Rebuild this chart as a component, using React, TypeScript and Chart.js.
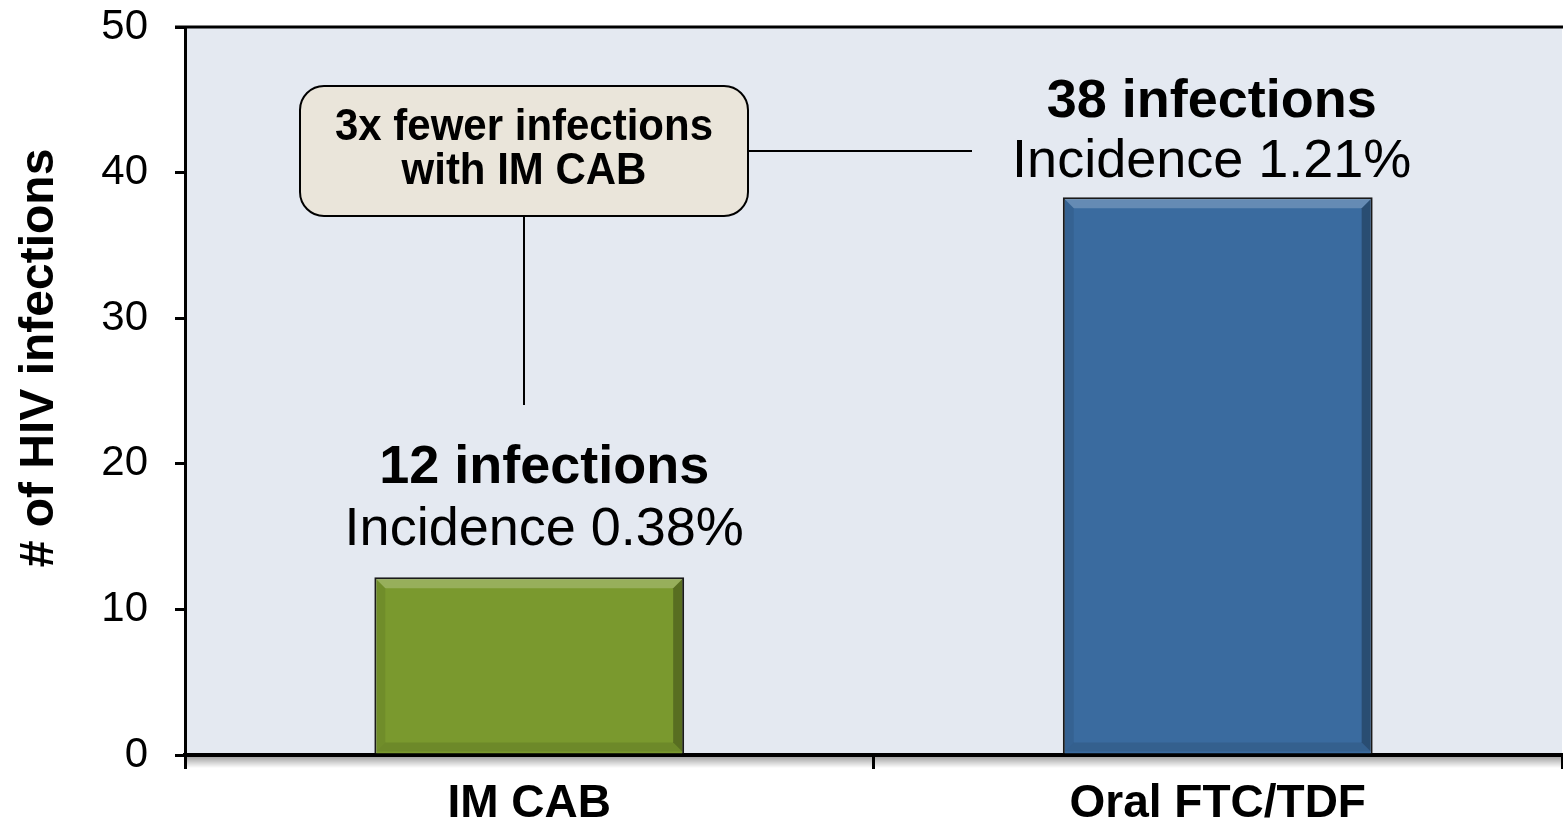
import React, { useEffect, useRef } from "react";
import { Chart, registerables } from "chart.js";

Chart.register(...registerables);

// ---- data ----
const categories = ["IM CAB", "Oral FTC/TDF"];
const infections = [12.2, 38.3];
const barColors = ["#7A992E", "#3A6B9F"];
const countLabels = ["12 infections", "38 infections"];
const incidenceLabels = ["Incidence 0.38%", "Incidence 1.21%"];
const yTickValues = [0, 10, 20, 30, 40, 50];
const yTitle = "# of HIV infections";
const calloutLines = ["3x fewer infections", "with IM CAB"];

// ---- layout (positions / styles, kept separate from data) ----
const W = 1563;
const H = 822;
const FONT = '"Liberation Sans", Arial, Helvetica, sans-serif';
const countLabelY = [19.7, 44.85]; // label anchor in axis units
const incidenceLabelY = [15.45, 40.7];
const labelDx = [15, -6];
const callout = { x: 300, y: 86, w: 448, h: 130, r: 24 };
const calloutTextWidth = 378;

const decorPlugin = {
  id: "decor",
  beforeDraw(chart: any) {
    const { ctx, chartArea: a } = chart;
    ctx.save();
    ctx.fillStyle = "#E4E9F1";
    ctx.fillRect(a.left, a.top, a.right - a.left, a.bottom - a.top);
    ctx.restore();
  },
  afterDatasetsDraw(chart: any) {
    const { ctx } = chart;
    const meta = chart.getDatasetMeta(0);
    ctx.save();
    meta.data.forEach((el: any) => {
      const p = el.getProps(["x", "y", "base", "width"], true);
      const b = 2;
      const s = 9;
      const L = p.x - p.width / 2 + b;
      const R = p.x + p.width / 2 - b;
      const T = p.y + b;
      const B = p.base - b;
      const poly = (pts: number[][], fill: string) => {
        ctx.beginPath();
        ctx.moveTo(pts[0][0], pts[0][1]);
        for (let i = 1; i < pts.length; i++) ctx.lineTo(pts[i][0], pts[i][1]);
        ctx.closePath();
        ctx.fillStyle = fill;
        ctx.fill();
      };
      poly([[L, T], [R, T], [R - s, T + s], [L + s, T + s]], "rgba(255,255,255,0.22)");
      poly([[R, T], [R, B], [R - s, B - s], [R - s, T + s]], "rgba(0,0,0,0.28)");
      poly([[L, B], [R, B], [R - s, B - s], [L + s, B - s]], "rgba(0,0,0,0.1)");
      poly([[L, T], [L, B], [L + s, B - s], [L + s, T + s]], "rgba(0,0,0,0.08)");
    });
    ctx.restore();
  },
  afterDraw(chart: any) {
    const { ctx, chartArea: a } = chart;
    const yScale = chart.scales.y;
    ctx.save();
    // top frame line
    ctx.strokeStyle = "#000";
    ctx.lineWidth = 3;
    ctx.beginPath();
    ctx.moveTo(a.left - 10, a.top);
    ctx.lineTo(W, a.top);
    ctx.stroke();

    // soft shadow under x-axis
    const g = ctx.createLinearGradient(0, a.bottom + 2, 0, a.bottom + 13);
    g.addColorStop(0, "rgba(0,0,0,0.35)");
    g.addColorStop(1, "rgba(0,0,0,0)");
    ctx.fillStyle = g;
    ctx.fillRect(a.left, a.bottom + 2, W - a.left, 11);

    // y-axis title
    ctx.save();
    ctx.translate(40, 358);
    ctx.rotate(-Math.PI / 2);
    ctx.fillStyle = "#000";
    ctx.font = `bold 48px ${FONT}`;
    ctx.textAlign = "center";
    ctx.textBaseline = "middle";
    ctx.fillText(yTitle, 0, 0);
    ctx.restore();

    // bar labels
    const meta = chart.getDatasetMeta(0);
    ctx.fillStyle = "#000";
    ctx.textAlign = "center";
    ctx.textBaseline = "middle";
    meta.data.forEach((el: any, i: number) => {
      const x = el.x + labelDx[i];
      ctx.font = `bold 54px ${FONT}`;
      ctx.fillText(countLabels[i], x, yScale.getPixelForValue(countLabelY[i]));
      ctx.font = `54px ${FONT}`;
      ctx.fillText(incidenceLabels[i], x, yScale.getPixelForValue(incidenceLabelY[i]));
    });

    // callout connectors
    const c = callout;
    ctx.strokeStyle = "#000";
    ctx.lineWidth = 2;
    ctx.beginPath();
    ctx.moveTo(c.x + c.w, c.y + c.h / 2);
    ctx.lineTo(972, c.y + c.h / 2);
    ctx.moveTo(c.x + c.w / 2, c.y + c.h);
    ctx.lineTo(c.x + c.w / 2, 405);
    ctx.stroke();

    // callout box
    ctx.beginPath();
    ctx.roundRect(c.x, c.y, c.w, c.h, c.r);
    ctx.fillStyle = "#EAE5DA";
    ctx.fill();
    ctx.lineWidth = 2;
    ctx.stroke();
    ctx.fillStyle = "#000";
    ctx.font = `bold 44px ${FONT}`;
    const sx = Math.min(1, calloutTextWidth / ctx.measureText(calloutLines[0]).width);
    ctx.save();
    ctx.translate(c.x + c.w / 2, 0);
    ctx.scale(sx, 1);
    ctx.fillText(calloutLines[0], 0, c.y + 42);
    ctx.fillText(calloutLines[1], 0, c.y + 86);
    ctx.restore();
    ctx.restore();
  },
};

export default function App() {
  const canvasRef = useRef<HTMLCanvasElement | null>(null);

  useEffect(() => {
    document.body.style.margin = "0";
    const canvas = canvasRef.current;
    if (!canvas) return;
    const chart = new Chart(canvas, {
      type: "bar",
      data: {
        labels: categories,
        datasets: [
          {
            data: infections,
            backgroundColor: barColors,
            borderColor: "#1A1A1A",
            borderWidth: 2,
            categoryPercentage: 0.45,
            barPercentage: 1,
          },
        ],
      },
      options: {
        responsive: false,
        animation: false,
        devicePixelRatio: 1,
        layout: { padding: { top: 27, right: 1, left: 0, bottom: 0 } },
        plugins: {
          legend: { display: false },
          tooltip: { enabled: false },
          title: { display: false },
        },
        scales: {
          x: {
            grid: {
              offset: true,
              drawOnChartArea: false,
              drawTicks: true,
              tickLength: 14,
              color: "#000",
              lineWidth: 3,
            },
            border: { display: true, color: "#000", width: 4 },
            ticks: {
              color: "#000",
              font: { family: FONT, size: 46, weight: "bold" },
              padding: 8,
              maxRotation: 0,
            },
            afterFit: (scale: any) => {
              scale.height = 67;
              scale.paddingLeft = 0;
              scale.paddingRight = 0;
            },
          },
          y: {
            min: 0,
            max: 50,
            afterBuildTicks: (scale: any) => {
              scale.ticks = yTickValues.map((v) => ({ value: v }));
            },
            grid: {
              drawOnChartArea: false,
              drawTicks: true,
              tickLength: 10,
              color: "#000",
              lineWidth: 3,
            },
            border: { display: true, color: "#000", width: 3 },
            ticks: {
              color: "#000",
              font: { family: FONT, size: 42 },
              padding: 27,
            },
            afterFit: (scale: any) => {
              scale.width = 185;
              scale.paddingTop = 0;
              scale.paddingBottom = 0;
            },
          },
        },
      },
      plugins: [decorPlugin],
    });
    return () => chart.destroy();
  }, []);

  return (
    <div style={{ position: "absolute", left: 0, top: 0, width: W, height: H }}>
      <canvas ref={canvasRef} width={W} height={H} style={{ width: W, height: H, display: "block" }} />
    </div>
  );
}
